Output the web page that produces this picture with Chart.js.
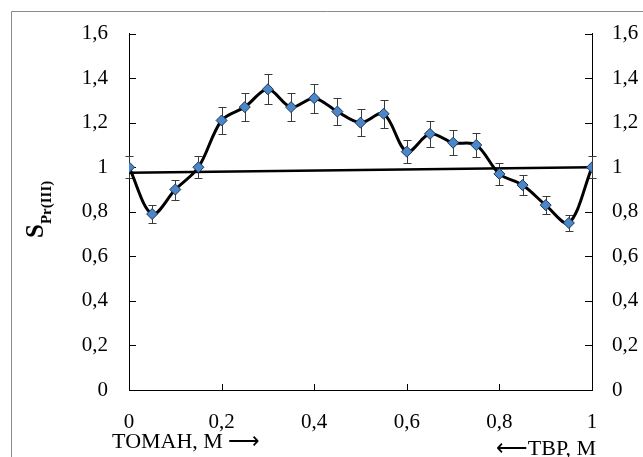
<!DOCTYPE html>
<html>
<head>
<meta charset="utf-8">
<script src="https://cdn.jsdelivr.net/npm/chart.js@4.4.1/dist/chart.umd.min.js"></script>
<style>
  html, body { margin: 0; padding: 0; background: #fff; }
  #wrap { width: 643px; height: 457px; }
</style>
</head>
<body>
<div id="wrap"><canvas id="myChart" width="643" height="457"></canvas></div>
<script>
// positions along the probe (fraction of length)
let xValues = [0, 0.05, 0.1, 0.15, 0.2, 0.25, 0.3, 0.35, 0.4, 0.45, 0.5, 0.55, 0.6, 0.65, 0.7, 0.75, 0.8, 0.85, 0.9, 0.95, 1];
let sValues = [1.00, 0.79, 0.90, 1.00, 1.21, 1.27, 1.35, 1.27, 1.31, 1.25, 1.20, 1.24, 1.07, 1.15, 1.11, 1.10, 0.97, 0.92, 0.83, 0.75, 1.00];
let sErrors = [0.05, 0.04, 0.045, 0.05, 0.06, 0.063, 0.067, 0.063, 0.065, 0.062, 0.06, 0.062, 0.053, 0.057, 0.055, 0.055, 0.048, 0.046, 0.041, 0.037, 0.05];
let trendX = [0, 1];
let trendY = [0.975, 1.0];
let yTicks = [0, 0.2, 0.4, 0.6, 0.8, 1, 1.2, 1.4, 1.6];
let xTicks = [0, 0.2, 0.4, 0.6, 0.8, 1];

const serif = "'Liberation Serif', 'Times New Roman', serif";

function commaLabel(v) {
    return Number(v.toFixed(1)).toString().replace('.', ',');
}

// frame, inside tick marks, error bars and the axis titles
const extras = {
    id: 'extras',
    beforeDraw(chart) {
        const c = chart.ctx;
        c.save();
        c.fillStyle = '#fff';
        c.fillRect(0, 0, chart.width, chart.height);
        c.strokeStyle = '#8a8a8a';
        c.lineWidth = 1;
        c.beginPath();
        c.moveTo(11.5, chart.height + 5);
        c.lineTo(11.5, 11.5);
        c.lineTo(chart.width + 5, 11.5);
        c.stroke();
        c.restore();
    },
    beforeDatasetsDraw(chart) {
        const c = chart.ctx;
        const x = chart.scales.x, y = chart.scales.y;
        c.save();
        c.strokeStyle = '#000';
        c.lineWidth = 1;
        c.beginPath();
        yTicks.forEach(v => {
            const py = Math.round(y.getPixelForValue(v)) + 0.5;
            c.moveTo(x.left, py); c.lineTo(x.left + 7, py);
            c.moveTo(x.right, py); c.lineTo(x.right - 7, py);
        });
        xTicks.forEach(v => {
            const px = Math.round(x.getPixelForValue(v)) + 0.5;
            c.moveTo(px, y.bottom); c.lineTo(px, y.bottom - 6);
        });
        c.stroke();

        // error bars
        c.strokeStyle = '#3a3a3a';
        c.beginPath();
        xValues.forEach((xv, i) => {
            const px = Math.round(x.getPixelForValue(xv)) + 0.5;
            const top = Math.round(y.getPixelForValue(sValues[i] + sErrors[i])) + 0.5;
            const bot = Math.round(y.getPixelForValue(sValues[i] - sErrors[i])) + 0.5;
            c.moveTo(px, top); c.lineTo(px, bot);
            c.moveTo(px - 4, top); c.lineTo(px + 4, top);
            c.moveTo(px - 4, bot); c.lineTo(px + 4, bot);
        });
        c.stroke();
        c.restore();
    },
    afterDraw(chart) {
        const c = chart.ctx;
        c.save();
        c.fillStyle = '#000';
        c.textBaseline = 'alphabetic';
        c.font = '22px ' + serif;
        c.textAlign = 'left';
        c.fillText('ТОМАН, М ⟶', 112, 448);
        c.textAlign = 'right';
        c.fillText('⟵ТВР, М', 596, 455);

        // rotated y title: S with subscript Pr(III)
        c.textAlign = 'left';
        c.translate(43, 238);
        c.rotate(-Math.PI / 2);
        c.font = 'bold 25px ' + serif;
        c.fillText('S', 0, 0);
        const sw = c.measureText('S').width;
        c.font = 'bold 15px ' + serif;
        c.fillText('Pr(III)', sw, 8);
        c.restore();
    }
};

const ctx = document.getElementById('myChart').getContext('2d');
const chart = new Chart(ctx, {
    type: 'line',
    data: {
        datasets: [{
            label: 'S',
            data: xValues.map((v, i) => ({ x: v, y: sValues[i] })),
            borderColor: '#000',
            borderWidth: 3,
            tension: 0.33,
            pointStyle: 'rectRot',
            pointRadius: 5.5,
            pointBackgroundColor: '#4a86c8',
            pointBorderColor: '#1d3557',
            pointBorderWidth: 1,
            order: 1
        }, {
            label: 'trend',
            data: trendX.map((v, i) => ({ x: v, y: trendY[i] })),
            borderColor: '#000',
            borderWidth: 2.5,
            pointRadius: 0,
            tension: 0,
            order: 2
        }]
    },
    options: {
        responsive: false,
        animation: false,
        devicePixelRatio: 1,
        layout: { padding: { top: 29, left: 0, right: 0, bottom: 0 } },
        plugins: { legend: { display: false }, tooltip: { enabled: false } },
        scales: {
            x: {
                type: 'linear',
                min: 0, max: 1,
                grid: { display: false, drawTicks: false },
                border: { color: '#000', width: 1 },
                afterBuildTicks: s => { s.ticks = xTicks.map(v => ({ value: v })); },
                afterFit: s => { s.height = 67; },
                ticks: {
                    padding: 20,
                    maxRotation: 0,
                    color: '#000',
                    font: { family: serif, size: 21 },
                    callback: v => commaLabel(v)
                }
            },
            y: {
                position: 'left',
                min: 0, max: 1.6,
                grid: { display: false, drawTicks: false },
                border: { color: '#000', width: 1 },
                afterBuildTicks: s => { s.ticks = yTicks.map(v => ({ value: v })); },
                afterFit: s => { s.width = 129; },
                ticks: {
                    padding: 21,
                    color: '#000',
                    font: { family: serif, size: 21 },
                    callback: v => commaLabel(v)
                }
            },
            y2: {
                position: 'right',
                min: 0, max: 1.6,
                grid: { display: false, drawTicks: false },
                border: { color: '#000', width: 1 },
                afterBuildTicks: s => { s.ticks = yTicks.map(v => ({ value: v })); },
                afterFit: s => { s.width = 51; },
                ticks: {
                    padding: 20,
                    color: '#000',
                    font: { family: serif, size: 21 },
                    callback: v => commaLabel(v)
                }
            }
        }
    },
    plugins: [extras]
});
</script>
</body>
</html>
